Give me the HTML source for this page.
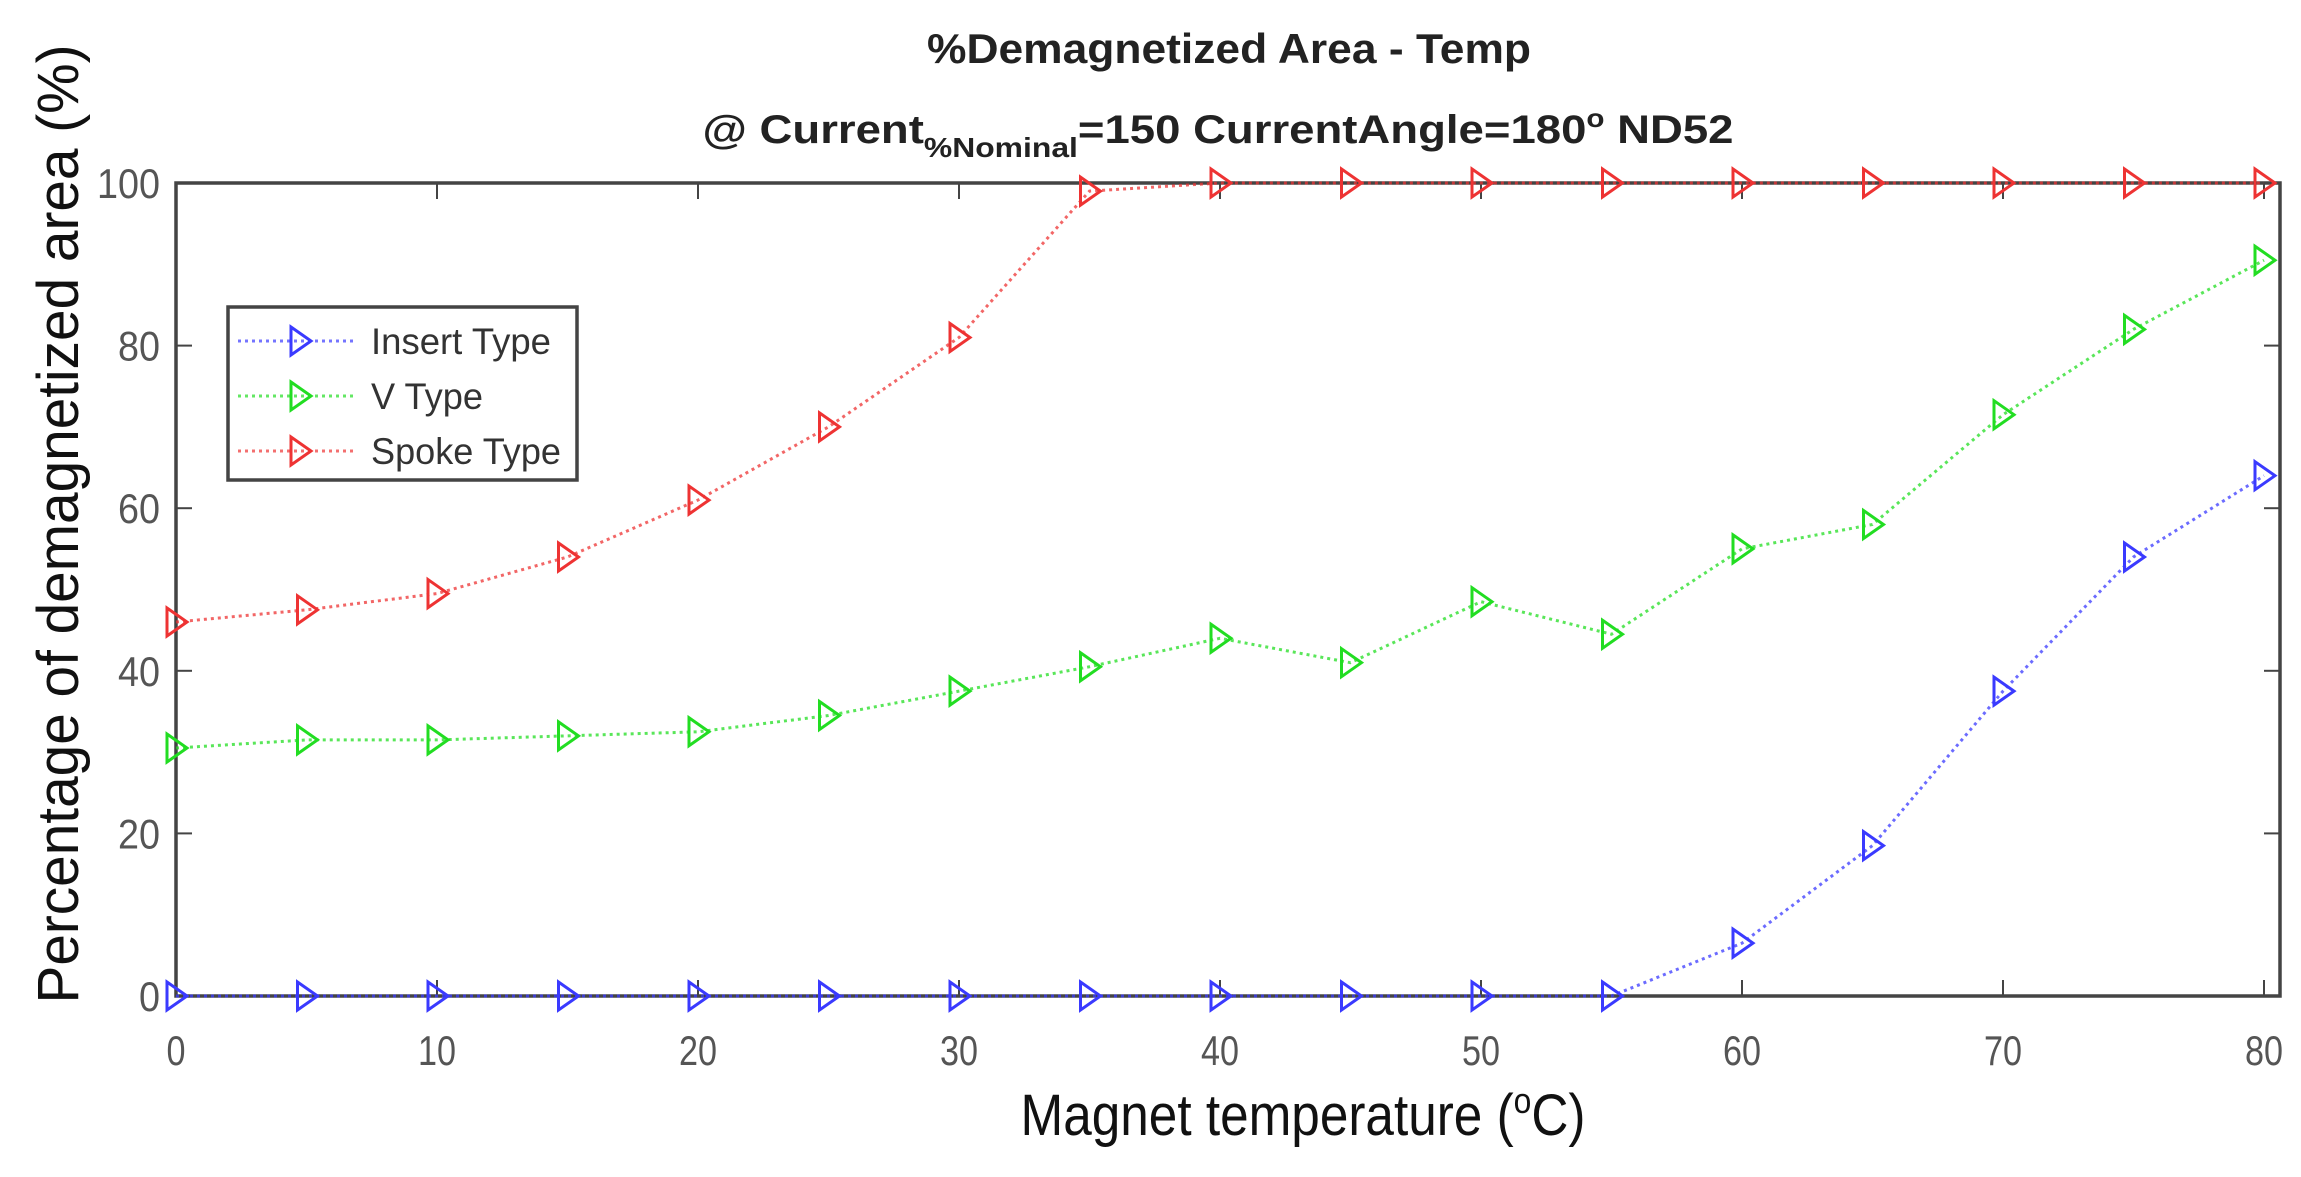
<!DOCTYPE html>
<html><head><meta charset="utf-8"><style>
html,body{margin:0;padding:0;background:#fff;}
svg{display:block;font-family:"Liberation Sans",sans-serif;}
</style></head><body>
<svg id="chart" width="2301" height="1177" viewBox="0 0 2301 1177">
<text x="1229" y="63" text-anchor="middle" font-size="42" font-weight="bold" fill="#222" textLength="604" lengthAdjust="spacingAndGlyphs">%Demagnetized Area - Temp</text>
<text x="1218" y="143" text-anchor="middle" font-size="40" font-weight="bold" fill="#222" textLength="1031" lengthAdjust="spacingAndGlyphs">@ Current<tspan font-size="28" dy="14">%Nominal</tspan><tspan dy="-14">=150 CurrentAngle=180</tspan><tspan font-size="26" dy="-16">o</tspan><tspan dy="16"> ND52</tspan></text>
<g id="plot"></g>
<text x="1303" y="1135" text-anchor="middle" font-size="58" fill="#111" textLength="565" lengthAdjust="spacingAndGlyphs">Magnet temperature (<tspan font-size="36" dy="-22">o</tspan><tspan dy="22">C)</tspan></text>
<text transform="translate(78,524) rotate(-90)" text-anchor="middle" font-size="58" fill="#111" textLength="959" lengthAdjust="spacingAndGlyphs">Percentage of demagnetized area (%)</text>
</svg>
<script>
const temps=[0,5,10,15,20,25,30,35,40,45,50,55,60,65,70,75,80];
const insertVals=[0,0,0,0,0,0,0,0,0,0,0,0,6.5,18.5,37.5,54,64];
const vVals=[30.5,31.5,31.5,32,32.5,34.5,37.5,40.5,44,41,48.5,44.5,55,58,71.5,82,90.5];
const spokeVals=[46,47.5,49.5,54,61,70,81,99,100,100,100,100,100,100,100,100,100];
const xTicks=[0,10,20,30,40,50,60,70,80];
const yTicks=[0,20,40,60,80,100];
const NS="http://www.w3.org/2000/svg";
const X0=176,X80=2264,XR=2280,Y0=996,Y100=183;
const sx=v=>X0+(X80-X0)*v/80;
const sy=v=>Y0-(Y0-Y100)*v/100;
const g=document.getElementById('plot');
function mk(t,a){const e=document.createElementNS(NS,t);for(const k in a)e.setAttribute(k,a[k]);g.appendChild(e);return e;}
const box=mk('rect',{x:X0,y:Y100,width:XR-X0,height:Y0-Y100,fill:'none',stroke:'#444','stroke-width':3.5});


xTicks.forEach(t=>{
  const x=sx(t);
  const l1=mk('line',{x1:x,y1:Y0,x2:x,y2:Y0-16,stroke:'#444','stroke-width':2});
  
  
  const l2=mk('line',{x1:x,y1:Y100,x2:x,y2:Y100+16,stroke:'#444','stroke-width':2});
  
  
  const s=String(t);
  const tx=mk('text',{x:x,y:1065,'text-anchor':'middle','font-size':42,fill:'#555',textLength:s.length*19,lengthAdjust:'spacingAndGlyphs'});
  tx.textContent=s;
  
  
});
yTicks.forEach(t=>{
  const y=sy(t);
  const l1=mk('line',{x1:X0,y1:y,x2:X0+16,y2:y,stroke:'#444','stroke-width':2});
  
  
  const l2=mk('line',{x1:XR,y1:y,x2:XR-16,y2:y,stroke:'#444','stroke-width':2});
  
  
  const s=String(t);
  const tx=mk('text',{x:X0-16,y:y+15,'text-anchor':'end','font-size':42,fill:'#555',textLength:s.length*21,lengthAdjust:'spacingAndGlyphs'});
  tx.textContent=s;
  
  
});
function tri(x,y,c){return mk('path',{d:`M${x-9},${y-14} L${x+11},${y} L${x-9},${y+14} Z`,fill:'none',stroke:c,'stroke-width':3});}
const series=[['insert',insertVals,'#3a3aff'],['v',vVals,'#22dd22'],['spoke',spokeVals,'#ee3333']];
series.forEach(([n,vals,c])=>{
  const pts=vals.map((v,i)=>sx(temps[i])+','+sy(v)).join(' ');
  const pl=mk('polyline',{points:pts,fill:'none',stroke:c,'stroke-width':3,'stroke-dasharray':'3 4',opacity:0.75});
  
  
  vals.forEach((v,i)=>{
    const m=tri(sx(temps[i]),sy(v),c);
    
    
  });
});
const lg=mk('rect',{x:228,y:307,width:349,height:173,fill:'#fff',stroke:'#444','stroke-width':3.5});


const labels=['Insert Type','V Type','Spoke Type'];
const labelW=[180,112,190];
series.forEach(([n,vals,c],i)=>{
  const y=341+i*55;
  const l=mk('line',{x1:238,y1:y,x2:355,y2:y,stroke:c,'stroke-width':3,'stroke-dasharray':'3 4',opacity:0.7});
  
  
  const m=tri(300,y,c);
  
  
  const t=mk('text',{x:371,y:y+13,'font-size':37,fill:'#333',textLength:labelW[i],lengthAdjust:'spacingAndGlyphs'});
  t.textContent=labels[i];
  
  
});
</script>
</body></html>
